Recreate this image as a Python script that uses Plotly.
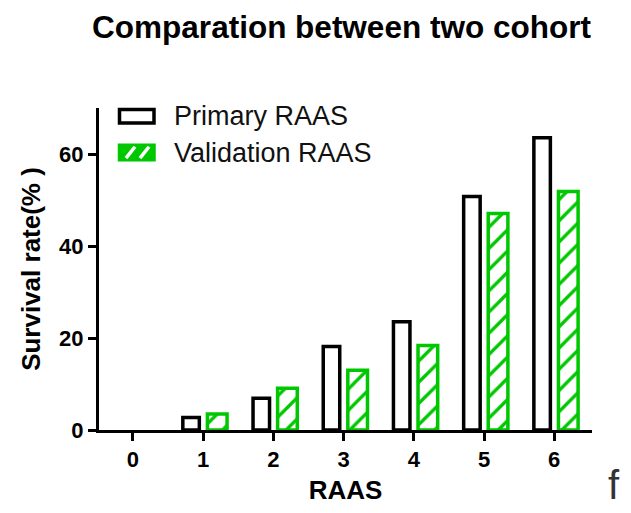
import plotly.graph_objects as go

categories = [0, 1, 2, 3, 4, 5, 6]
primary_raas = [0, 2.7, 6.9, 18.2, 23.6, 50.9, 63.7]
validation_raas = [0, 3.5, 9.1, 13.0, 18.4, 47.2, 52.0]
series_names = ["Primary RAAS", "Validation RAAS"]
y_ticks = [0, 20, 40, 60]

GREEN = "#00c800"
FONT = "Liberation Sans, Arial, sans-serif"

# zero-height bars are not outlined in the reference
prim_lw = [0 if v == 0 else 3.5 for v in primary_raas]
val_lw = [0 if v == 0 else 3.5 for v in validation_raas]

fig = go.Figure()
fig.add_trace(go.Bar(
    x=categories, y=primary_raas, name=series_names[0],
    width=0.235, offset=-0.29,
    marker=dict(color="white", line=dict(color="black", width=prim_lw)),
    showlegend=False,
))
fig.add_trace(go.Bar(
    x=categories, y=validation_raas, name=series_names[1],
    width=0.28, offset=0.06,
    marker=dict(color="white", line=dict(color=GREEN, width=val_lw),
                pattern=dict(shape="/", fgcolor=GREEN, bgcolor="white",
                             fgopacity=1, fillmode="replace",
                             size=15, solidity=0.22)),
    showlegend=False,
))

# plot area in pixels: x 99..592, y 108..432
L, R, T, B = 99, 592, 108, 432
W, H = R - L, B - T

def px(x):
    return (x - L) / W

def py(y):
    return (B - y) / H

shapes = [
    dict(type="rect", xref="paper", yref="paper",
         x0=px(119.5), x1=px(154), y0=py(123), y1=py(109.5),
         line=dict(color="black", width=3.5), fillcolor="white", layer="above"),
    dict(type="rect", xref="paper", yref="paper",
         x0=px(119.5), x1=px(154), y0=py(160), y1=py(145.5),
         line=dict(color=GREEN, width=3.5), fillcolor=GREEN, layer="above"),
]
# white stripes inside the green legend box
for sx in (126, 140):
    shapes.append(dict(type="line", xref="paper", yref="paper",
                       x0=px(sx), y0=py(158.5), x1=px(sx + 9), y1=py(147),
                       line=dict(color="white", width=3.5), layer="above"))

annotations = [
    dict(text=series_names[0], xref="paper", yref="paper",
         x=px(172), y=py(116), xanchor="left", yanchor="middle",
         showarrow=False, font=dict(family=FONT, size=27, color="#111")),
    dict(text=series_names[1], xref="paper", yref="paper",
         x=px(172), y=py(153), xanchor="left", yanchor="middle",
         showarrow=False, font=dict(family=FONT, size=27, color="#111")),
    dict(text="f", xref="paper", yref="paper",
         x=px(614), y=py(487), xanchor="center", yanchor="middle",
         showarrow=False, font=dict(family=FONT, size=40, color="#333")),
]

fig.update_layout(
    width=631, height=513,
    margin=dict(l=L, r=631 - R, t=T, b=513 - B),
    paper_bgcolor="white", plot_bgcolor="white",
    barmode="overlay",
    title=dict(text="<b>Comparation between two cohort</b>",
               x=341.5 / 631, xanchor="center",
               y=1 - 27 / 513, yanchor="middle",
               font=dict(family=FONT, size=31.5, color="black")),
    shapes=shapes, annotations=annotations,
    showlegend=False,
)
fig.update_xaxes(
    range=[-0.484, 6.538], tickvals=categories,
    ticktext=[str(c) for c in categories],
    showline=True, linecolor="black", linewidth=3,
    ticks="outside", ticklen=8, tickwidth=3, tickcolor="black",
    showgrid=False, zeroline=False,
    tickfont=dict(family=FONT, size=22, color="black", weight="bold"),
    title=dict(text="<b>RAAS</b>", standoff=10,
               font=dict(family=FONT, size=26, color="black")),
)
fig.update_yaxes(
    range=[0, 70.2], tickvals=y_ticks,
    showline=True, linecolor="black", linewidth=3,
    ticks="outside", ticklen=8, tickwidth=3, tickcolor="black",
    showgrid=False, zeroline=False,
    tickfont=dict(family=FONT, size=22, color="black", weight="bold"),
    title=dict(text="<b>Survival rate(% )</b>", standoff=12,
               font=dict(family=FONT, size=26, color="black")),
)

fig.write_html(
    "out.html",
    config={"displayModeBar": False},
    post_script="document.body.style.margin='0';document.body.style.overflow='hidden';",
)
